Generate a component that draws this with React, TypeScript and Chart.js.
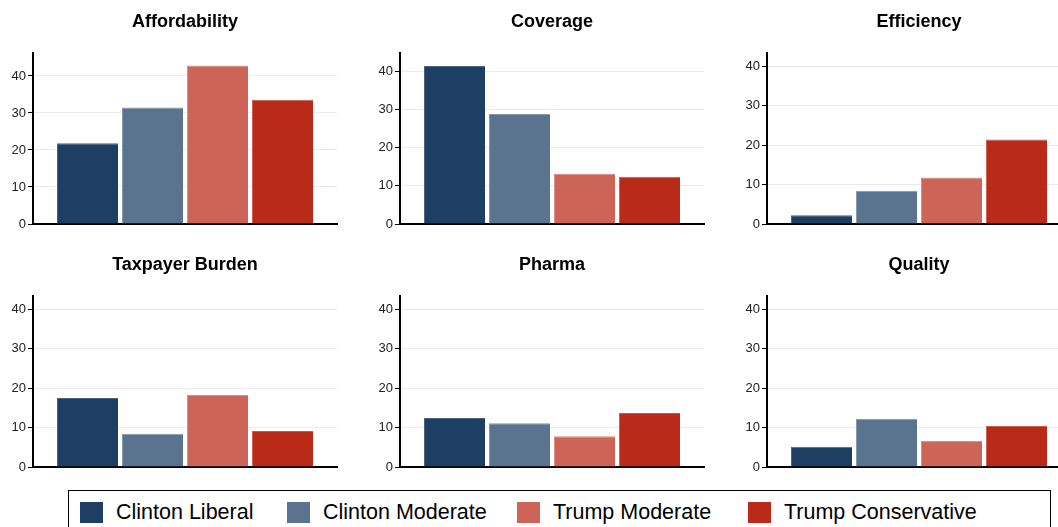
import React, { useEffect, useRef } from "react";
import { Chart, registerables } from "chart.js";

Chart.register(...registerables);

const categories = ["Affordability", "Coverage", "Efficiency", "Taxpayer Burden", "Pharma", "Quality"];
const seriesNames = ["Clinton Liberal", "Clinton Moderate", "Trump Moderate", "Trump Conservative"];
const clintonLiberal = [21.8, 41.5, 2.2, 17.5, 12.4, 5.1];
const clintonModerate = [31.5, 28.9, 8.4, 8.4, 11.1, 12.2];
const trumpModerate = [42.8, 13.2, 11.8, 18.2, 7.8, 6.6];
const trumpConservative = [33.6, 12.4, 21.4, 9.1, 13.7, 10.4];
const yMax = [46.2, 44.9, 43.3, 43.3, 43.3, 43.3];

const seriesValues = [clintonLiberal, clintonModerate, trumpModerate, trumpConservative];
const fillColors = ["#1c3f63", "#5a738f", "#cc6557", "#b92a19"];
const edgeColors = ["#4a6584", "#8496aa", "#dc8c80", "#cc5a4c"];

const FONT = "'Liberation Sans', Arial, Helvetica, sans-serif";

const PANEL_W = 370;
const PANEL_H = 243;
const COL_STEP = 367;

function Panel({ index }: { index: number }) {
  const ref = useRef<HTMLCanvasElement | null>(null);
  useEffect(() => {
    if (!ref.current) return;
    const chart = new Chart(ref.current, {
      type: "bar",
      data: {
        labels: [categories[index]],
        datasets: seriesNames.map((name, s) => ({
          label: name,
          data: [seriesValues[s][index]],
          backgroundColor: fillColors[s],
          borderColor: edgeColors[s],
          borderWidth: { top: 1, left: 1, right: 0, bottom: 0 },
          categoryPercentage: 0.855,
          barPercentage: 0.94,
        })),
      },
      options: {
        animation: false,
        responsive: false,
        devicePixelRatio: 1,
        layout: { padding: { left: 0, right: 33, top: 0, bottom: 19 } },
        plugins: {
          legend: { display: false },
          tooltip: { enabled: false },
          title: {
            display: true,
            fullSize: false,
            text: categories[index],
            color: "#000",
            font: { family: FONT, size: 18, weight: "bold" },
            padding: { top: 11, bottom: 20.4 },
          },
        },
        scales: {
          x: {
            grid: { display: false, drawTicks: false },
            ticks: { display: false },
            border: { display: true, color: "#000", width: 2 },
            afterFit: (s: any) => {
              s.height = 0;
            },
          },
          y: {
            min: 0,
            max: yMax[index],
            ticks: {
              stepSize: 10,
              includeBounds: false,
              color: "#222",
              font: { family: FONT, size: 13 },
              padding: 2,
            },
            grid: { color: "#ebebeb", tickColor: "#000", tickLength: 5, lineWidth: 1 },
            border: { display: true, color: "#000", width: 2 },
            afterFit: (s: any) => {
              s.width = 33;
            },
          },
        },
      } as any,
    });
    return () => chart.destroy();
  }, [index]);
  const col = index % 3;
  const row = Math.floor(index / 3);
  return (
    <canvas
      ref={ref}
      width={PANEL_W}
      height={PANEL_H}
      style={{ position: "absolute", left: col * COL_STEP, top: row * PANEL_H, width: PANEL_W, height: PANEL_H }}
    />
  );
}

const legendX = [80, 287, 517, 748];

export default function App() {
  return (
    <div
      style={{
        position: "fixed",
        left: 0,
        top: 0,
        width: 1058,
        height: 527,
        overflow: "hidden",
        background: "#fff",
        fontFamily: FONT,
      }}
    >
      {categories.map((_, i) => (
        <Panel key={i} index={i} />
      ))}
      <div
        style={{
          position: "absolute",
          left: 68,
          top: 490,
          width: 983,
          height: 60,
          border: "1px solid #000",
          boxSizing: "border-box",
        }}
      />
      {seriesNames.map((name, s) => (
        <div
          key={name}
          style={{
            position: "absolute",
            left: legendX[s],
            top: 500,
            height: 24,
            display: "flex",
            alignItems: "center",
            whiteSpace: "nowrap",
          }}
        >
          <div style={{ width: 23, height: 21, background: fillColors[s], marginRight: 13 }} />
          <span style={{ fontSize: 21.5, color: "#000", lineHeight: "24px" }}>{name}</span>
        </div>
      ))}
    </div>
  );
}
